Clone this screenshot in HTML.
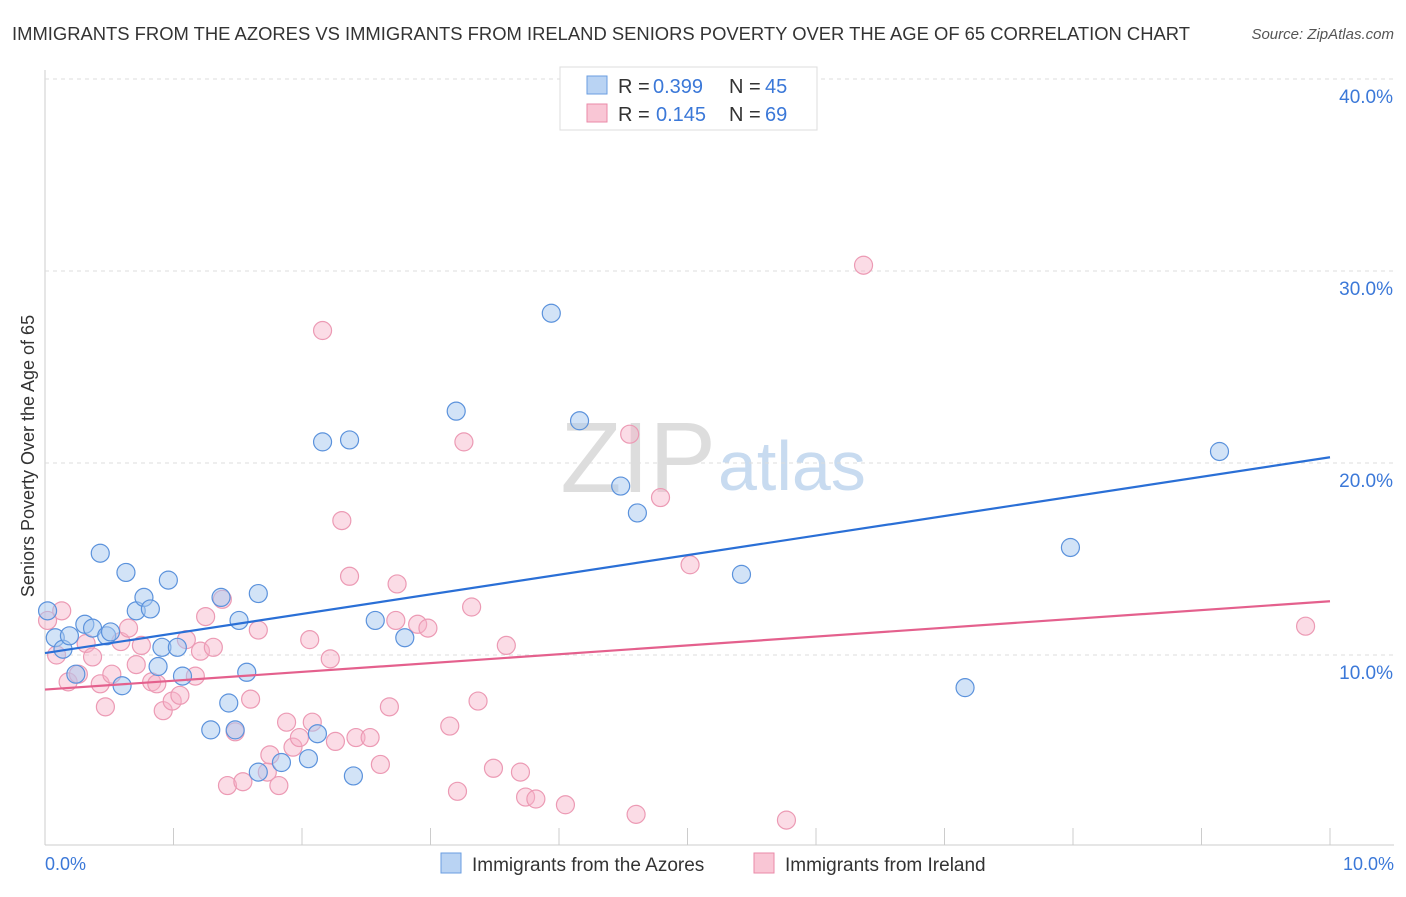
<!DOCTYPE html>
<html><head><meta charset="utf-8"><style>
body{margin:0;background:#fff;font-family:"Liberation Sans",sans-serif;}
svg text{font-family:"Liberation Sans",sans-serif;}
</style></head><body>
<svg id="c" width="1406" height="892" xmlns="http://www.w3.org/2000/svg">
<text x="12" y="40" font-size="18" fill="#333" textLength="1178" lengthAdjust="spacingAndGlyphs">IMMIGRANTS FROM THE AZORES VS IMMIGRANTS FROM IRELAND SENIORS POVERTY OVER THE AGE OF 65 CORRELATION CHART</text>
<text x="1394" y="39" font-size="15" fill="#555" font-style="italic" text-anchor="end">Source: ZipAtlas.com</text>
<text x="34" y="456" font-size="18" fill="#333" text-anchor="middle" transform="rotate(-90 34 456)">Seniors Poverty Over the Age of 65</text>
<text x="716" y="492" font-size="100" fill="#ddd" text-anchor="end" font-family="Liberation Serif">ZIP</text>
<text x="718" y="490" font-size="70" fill="#c8dbf0">atlas</text>
<g id="grid"></g><g id="pts"></g><g id="lines"></g>
<g>
<rect x="560" y="67" width="257" height="63" fill="#fff" stroke="#ddd"/>
<rect x="587" y="76" width="20" height="18" fill="#b9d3f3" stroke="#6a9ee0"/>
<rect x="587" y="104" width="20" height="18" fill="#f9c6d5" stroke="#ea8aa8"/>
<text x="618" y="93" font-size="20" fill="#333">R =</text><text x="653" y="93" font-size="20" fill="#3b78d8">0.399</text>
<text x="729" y="93" font-size="20" fill="#333">N =</text><text x="765" y="93" font-size="20" fill="#3b78d8">45</text>
<text x="618" y="121" font-size="20" fill="#333">R =</text><text x="656" y="121" font-size="20" fill="#3b78d8">0.145</text>
<text x="729" y="121" font-size="20" fill="#333">N =</text><text x="765" y="121" font-size="20" fill="#3b78d8">69</text>
</g>
<g>
<rect x="441" y="853" width="20" height="20" fill="#b9d3f3" stroke="#6a9ee0"/>
<text x="472" y="871" font-size="19" fill="#333">Immigrants from the Azores</text>
<rect x="754" y="853" width="20" height="20" fill="#f9c6d5" stroke="#ea8aa8"/>
<text x="785" y="871" font-size="19" fill="#333">Immigrants from Ireland</text>
</g>
<text x="45" y="870" font-size="18" fill="#3b78d8">0.0%</text>
<text x="1394" y="870" font-size="18" fill="#3b78d8" text-anchor="end">10.0%</text>
</svg>
<script>
const xMin=0,xMax=10,yMin=0,yMax=40;
const yTicks=[10,20,30,40];
const azoresX=[0.02,0.08,0.14,0.19,0.24,0.31,0.37,0.43,0.48,0.51,0.60,0.63,0.71,0.77,0.82,0.88,0.91,0.96,1.03,1.07,1.29,1.37,1.43,1.48,1.51,1.57,1.66,1.66,1.84,2.05,2.12,2.16,2.37,2.40,2.57,2.80,3.20,3.94,4.16,4.48,4.61,5.42,7.16,7.98,9.14];
const azoresY=[12.3,10.9,10.3,11.0,9.0,11.6,11.4,15.3,11.0,11.2,8.4,14.3,12.3,13.0,12.4,9.4,10.4,13.9,10.4,8.9,6.1,13.0,7.5,6.1,11.8,9.1,13.2,3.9,4.4,4.6,5.9,21.1,21.2,3.7,11.8,10.9,22.7,27.8,22.2,18.8,17.4,14.2,8.3,15.6,20.6];
const irelandX=[0.02,0.09,0.13,0.18,0.26,0.32,0.37,0.43,0.47,0.52,0.59,0.65,0.71,0.75,0.83,0.87,0.92,0.99,1.05,1.10,1.17,1.21,1.25,1.31,1.38,1.48,1.60,1.42,1.54,1.66,1.73,1.75,1.82,1.88,1.93,1.98,2.06,2.08,2.16,2.22,2.26,2.31,2.37,2.42,2.53,2.61,2.68,2.74,2.73,2.90,2.98,3.15,3.21,3.26,3.32,3.37,3.49,3.59,3.70,3.74,3.82,4.05,4.55,4.60,4.79,5.02,5.77,6.37,9.81];
const irelandY=[11.8,10.0,12.3,8.6,9.0,10.6,9.9,8.5,7.3,9.0,10.7,11.4,9.5,10.5,8.6,8.5,7.1,7.6,7.9,10.8,8.9,10.2,12.0,10.4,12.9,6.0,7.7,3.2,3.4,11.3,3.9,4.8,3.2,6.5,5.2,5.7,10.8,6.5,26.9,9.8,5.5,17.0,14.1,5.7,5.7,4.3,7.3,13.7,11.8,11.6,11.4,6.3,2.9,21.1,12.5,7.6,4.1,10.5,3.9,2.6,2.5,2.2,21.5,1.7,18.2,14.7,1.4,30.3,11.5];
const azoresFit=[10.1,20.3];
const irelandFit=[8.2,12.8];
const X0=45,X1=1330,Y0=847,Y1=79;
const sx=v=>X0+(v-xMin)/(xMax-xMin)*(X1-X0);
const sy=v=>Y0-(v-yMin)/(yMax-yMin)*(Y0-Y1);
const NS="http://www.w3.org/2000/svg";
function mk(tag,attrs,parent){const e=document.createElementNS(NS,tag);for(const k in attrs)e.setAttribute(k,attrs[k]);document.getElementById(parent).appendChild(e);return e;}
let e=mk('line',{x1:X0,y1:70,x2:X0,y2:845,stroke:'#ccc'},'grid');


e=mk('line',{x1:X0,y1:845,x2:1394,y2:845,stroke:'#ccc'},'grid');


for(let i=1;i<=10;i++){e=mk('line',{x1:sx(i),y1:828,x2:sx(i),y2:845,stroke:'#ccc'},'grid');

}
yTicks.forEach(t=>{e=mk('line',{x1:X0,y1:sy(t),x2:1394,y2:sy(t),stroke:'#ddd','stroke-dasharray':'4 4'},'grid');


e=mk('text',{x:1393,y:sy(t)+24,'font-size':19,fill:'#3b78d8','text-anchor':'end'},'grid');e.textContent=t.toFixed(1)+'%';

});
irelandX.forEach((x,i)=>{e=mk('circle',{cx:sx(x),cy:sy(irelandY[i]),r:9,fill:'rgba(247,178,199,0.45)',stroke:'#ec9ab4','stroke-width':1.2},'pts');

});
azoresX.forEach((x,i)=>{e=mk('circle',{cx:sx(x),cy:sy(azoresY[i]),r:9,fill:'rgba(165,200,240,0.5)',stroke:'#5b92dc','stroke-width':1.2},'pts');

});
e=mk('line',{x1:sx(0),y1:sy(azoresFit[0]),x2:sx(10),y2:sy(azoresFit[1]),stroke:'#2a6fd6','stroke-width':2.2},'lines');


e=mk('line',{x1:sx(0),y1:sy(irelandFit[0]),x2:sx(10),y2:sy(irelandFit[1]),stroke:'#e4608d','stroke-width':2.2},'lines');


</script>
</body></html>
